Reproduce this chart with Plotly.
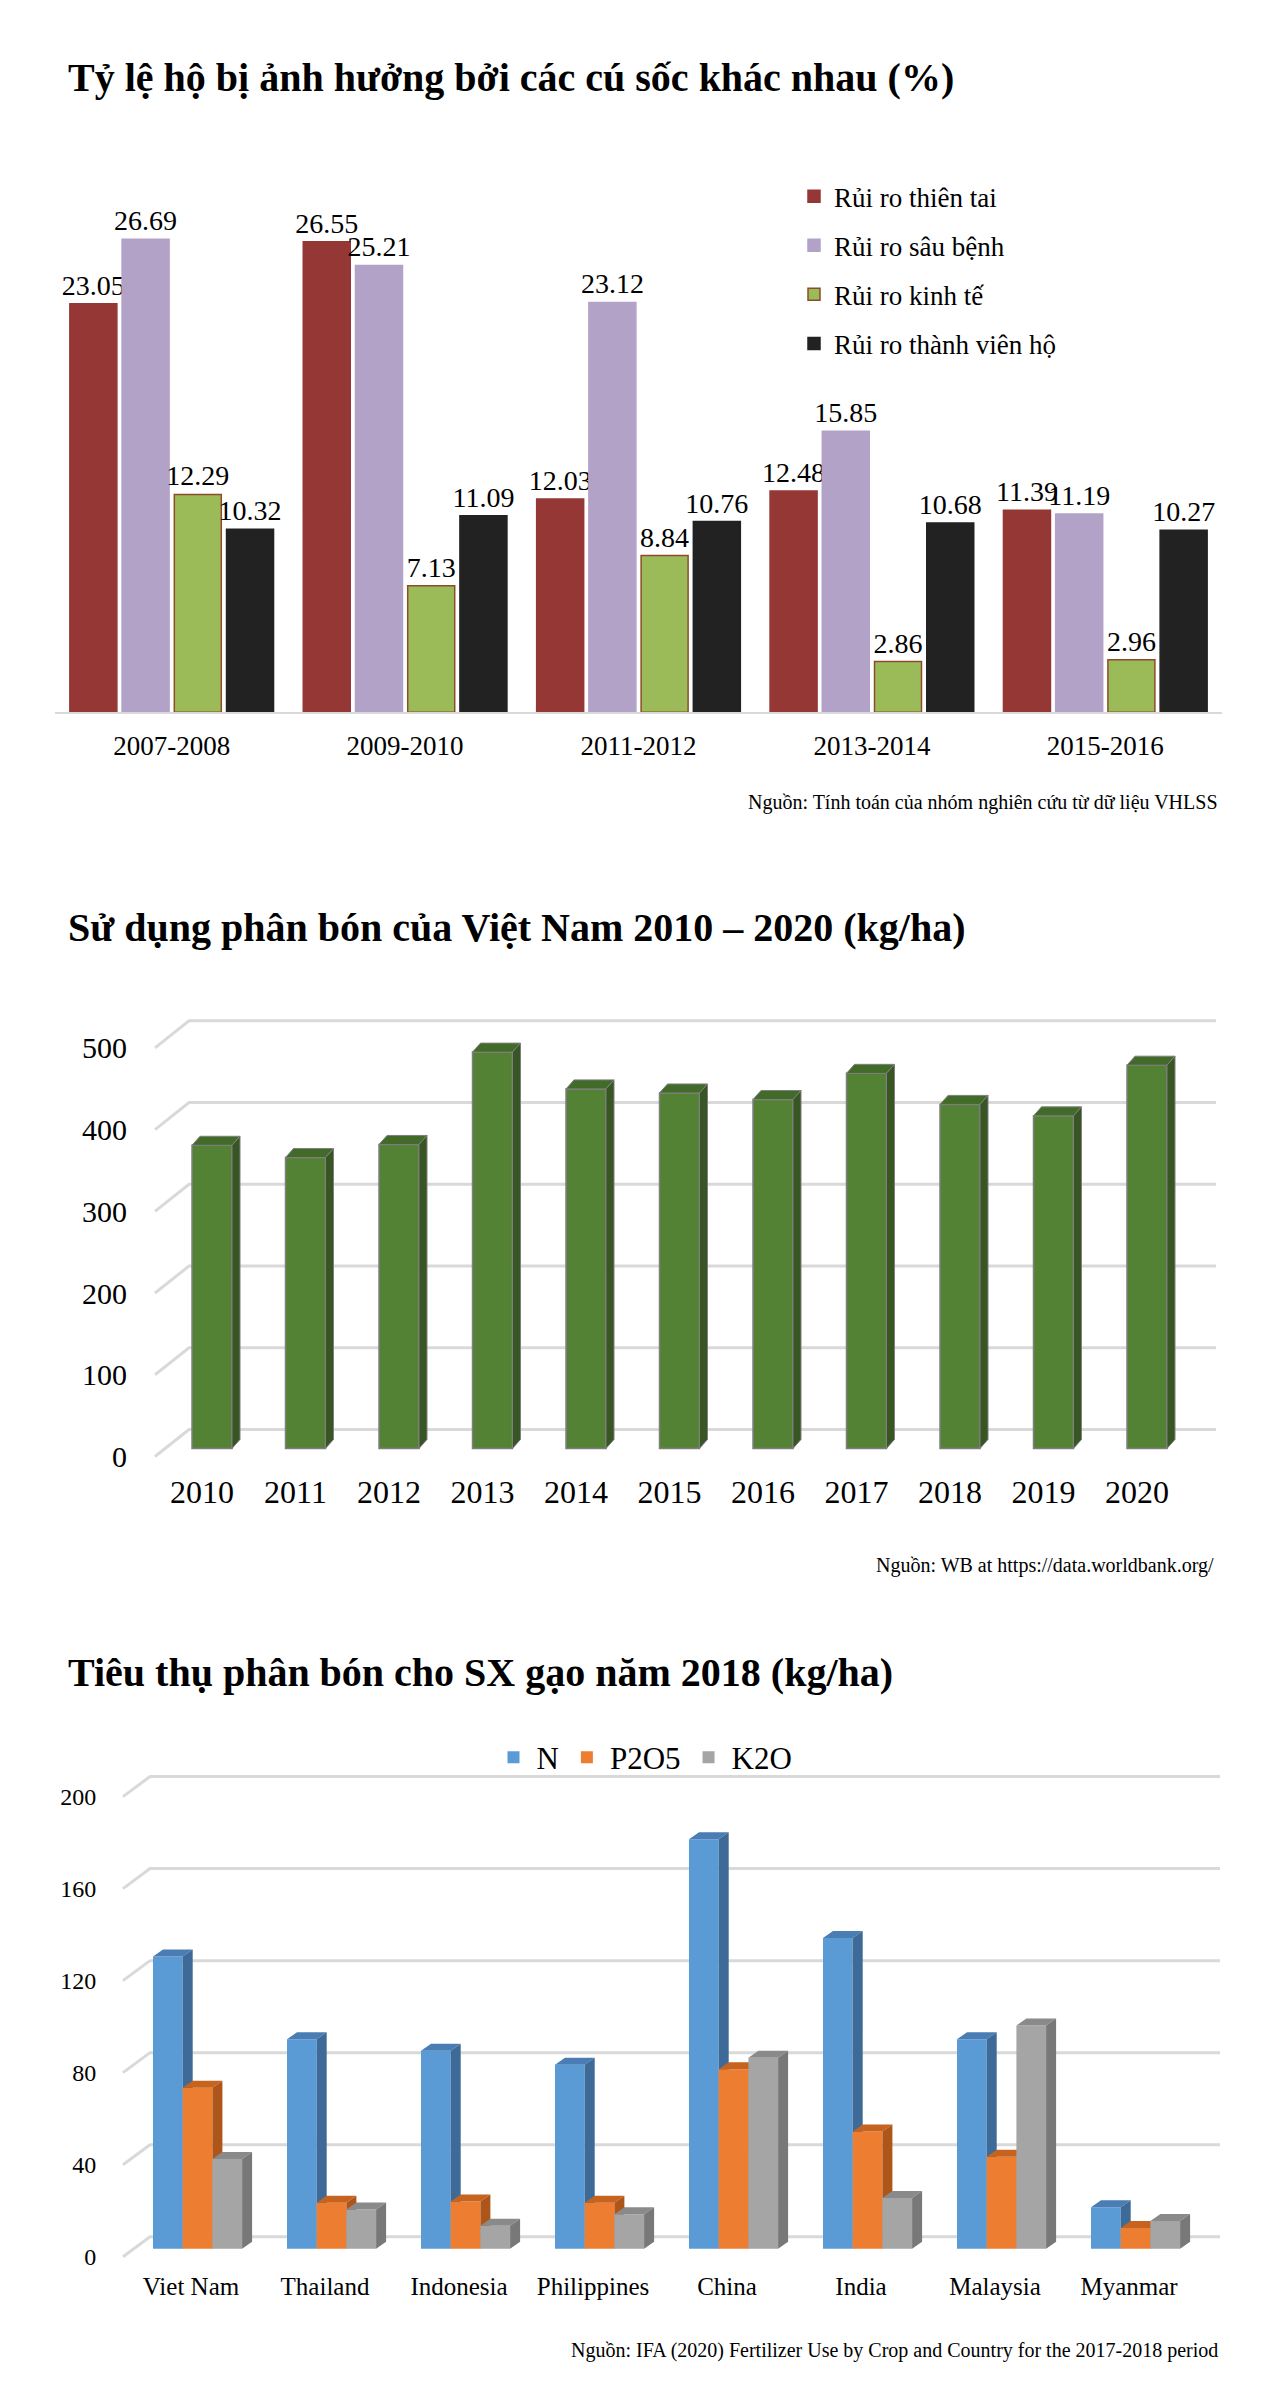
import plotly.graph_objects as go

W, H = 1280, 2383
FONT = "Liberation Serif"
PAGE_OFF = 8      # browser body margin
V_SCALE = 0.9955  # small vertical shrink observed in the captured page


def X(p):
    return (p - PAGE_OFF) / W


def Y(p):
    return 1 - (p / V_SCALE - PAGE_OFF) / H


# ---------------- data ----------------
# Chart 1
periods = ["2007-2008", "2009-2010", "2011-2012", "2013-2014", "2015-2016"]
risk_names = ["Rủi ro thiên tai", "Rủi ro sâu bệnh", "Rủi ro kinh tế", "Rủi ro thành viên hộ"]
thien_tai = [23.05, 26.55, 12.03, 12.48, 11.39]
sau_benh = [26.69, 25.21, 23.12, 15.85, 11.19]
kinh_te = [12.29, 7.13, 8.84, 2.86, 2.96]
thanh_vien = [10.32, 11.09, 10.76, 10.68, 10.27]

# Chart 2
years = ["2010", "2011", "2012", "2013", "2014", "2015", "2016", "2017", "2018", "2019", "2020"]
fert_use = [371, 356, 372, 485, 440, 435, 427, 459, 421, 407, 469]
c2_ticks = [0, 100, 200, 300, 400, 500]

# Chart 3
countries = ["Viet Nam", "Thailand", "Indonesia", "Philippines", "China", "India", "Malaysia", "Myanmar"]
nutrient_names = ["N", "P2O5", "K2O"]
n_vals = [127, 91, 86, 80, 178, 135, 91, 18]
p2o5_vals = [70, 20, 20.5, 20, 78, 51, 40, 9]
k2o_vals = [39, 17, 10, 15, 83, 22, 97, 12]
c3_ticks = [0, 40, 80, 120, 160, 200]

fig = go.Figure()

# ---------------- chart 1 ----------------
c1_colors = ["#953735", "#B3A2C7", "#9BBB59", "#222222"]
c1_lines = ["#953735", "#B3A2C7", "#8E4B2B", "#222222"]
for i, (name, vals) in enumerate(zip(risk_names, [thien_tai, sau_benh, kinh_te, thanh_vien])):
    fig.add_trace(go.Bar(
        x=periods, y=vals, name=name,
        marker=dict(color=c1_colors[i], line=dict(color=c1_lines[i], width=1.5)),
        text=[f"{v:.2f}" for v in vals], textposition="outside", textangle=0,
        constraintext="none", cliponaxis=False,
        textfont=dict(family=FONT, size=28, color="black"),
        xaxis="x", yaxis="y", legend="legend", legendgroup=f"r{i}",
        hoverinfo="x+y+name",
    ))


def faces(vals, offset, width, dx, dy):
    tx, ty, sx, sy = [], [], [], []
    for i, v in enumerate(vals):
        x0 = i + offset
        x1 = x0 + width
        tx += [x0, x0 + dx, x1 + dx, x1, x0, None]
        ty += [v, v + dy, v + dy, v, v, None]
        sx += [x1, x1 + dx, x1 + dx, x1, x1, None]
        sy += [0, dy, v + dy, v, 0, None]
    return tx, ty, sx, sy


def grid(ticks, xl, xb, xr, g_off, l_off):
    gx, gy = [], []
    for v in ticks:
        gx += [xl, xb, xr, None]
        gy += [v - l_off, v + g_off, v + g_off, None]
    return gx, gy


# ---------------- chart 2 ----------------
k2, base2, step2, t0_2 = 0.817, 1448, 93.5, 202
c2_top, c2_bot, c2_left, c2_right = 995, 1462, 150, 1222
c2_yr = [(base2 - c2_bot) / k2, (base2 - c2_top) / k2]
c2_xr = [(c2_left - t0_2) / step2, (c2_right - t0_2) / step2]
g_off2, l_off2 = 19 / k2, 8 / k2
gx, gy = grid(c2_ticks, (155 - t0_2) / step2, (189 - t0_2) / step2, (1216 - t0_2) / step2, g_off2, l_off2)
fig.add_trace(go.Scatter(x=gx, y=gy, mode="lines", line=dict(color="#d9d9d9", width=3),
                         xaxis="x2", yaxis="y2", showlegend=False, hoverinfo="skip"))

w2 = 40 / step2
off2 = -10 / step2
fig.add_trace(go.Bar(x=list(range(len(years))), y=fert_use, width=w2, offset=off2,
                     marker=dict(color="#548235", line=dict(color="#7f7f7f", width=1.5)),
                     xaxis="x3", yaxis="y3", showlegend=False, name="kg/ha",
                     customdata=years, hovertemplate="%{customdata}: %{y}<extra></extra>"))
tx, ty, sx, sy = faces(fert_use, off2, w2, 8 / step2, 9 / k2)
fig.add_trace(go.Scatter(x=tx, y=ty, mode="lines", fill="toself", fillcolor="#426b2a",
                         line=dict(color="#7f7f7f", width=1), xaxis="x3", yaxis="y3",
                         showlegend=False, hoverinfo="skip"))
fig.add_trace(go.Scatter(x=sx, y=sy, mode="lines", fill="toself", fillcolor="#375623",
                         line=dict(color="#7f7f7f", width=1), xaxis="x3", yaxis="y3",
                         showlegend=False, hoverinfo="skip"))

# ---------------- chart 3 ----------------
k3, base3, step3, t0_3 = 2.3, 2248, 134, 191
c3_top, c3_bot, c3_left, c3_right = 1765, 2261, 118, 1222
c3_yr = [(base3 - c3_bot) / k3, (base3 - c3_top) / k3]
c3_xr = [(c3_left - t0_3) / step3, (c3_right - t0_3) / step3]
g_off3, l_off3 = 12 / k3, 8 / k3
gx, gy = grid(c3_ticks, (123 - t0_3) / step3, (150 - t0_3) / step3, (1220 - t0_3) / step3, g_off3, l_off3)
fig.add_trace(go.Scatter(x=gx, y=gy, mode="lines", line=dict(color="#d9d9d9", width=3),
                         xaxis="x4", yaxis="y4", showlegend=False, hoverinfo="skip"))

w3 = 29.7 / step3
first_off = -38 / step3
c3_front = ["#5B9BD5", "#ED7D31", "#A5A5A5"]
c3_topc = ["#4a7db3", "#c5631f", "#8a8a8a"]
c3_side = ["#3d6a96", "#ae561a", "#787878"]
axes3 = [("x5", "y5"), ("x6", "y6"), ("x7", "y7")]
for j, (name, vals) in enumerate(zip(nutrient_names, [n_vals, p2o5_vals, k2o_vals])):
    xa, ya = axes3[j]
    off = first_off + j * w3
    fig.add_trace(go.Bar(x=list(range(len(countries))), y=vals, width=w3, offset=off, name=name,
                         marker=dict(color=c3_front[j], line=dict(width=0)),
                         xaxis=xa, yaxis=ya, legend="legend2",
                         customdata=countries, hovertemplate="%{customdata}: %{y}<extra>" + name + "</extra>"))
    tx, ty, sx, sy = faces(vals, off, w3, 10 / step3, 7 / k3)
    fig.add_trace(go.Scatter(x=tx, y=ty, mode="lines", fill="toself", fillcolor=c3_topc[j],
                             line=dict(width=0), xaxis=xa, yaxis=ya, showlegend=False, hoverinfo="skip"))
    fig.add_trace(go.Scatter(x=sx, y=sy, mode="lines", fill="toself", fillcolor=c3_side[j],
                             line=dict(width=0), xaxis=xa, yaxis=ya, showlegend=False, hoverinfo="skip"))

# ---------------- layout ----------------
lay = dict(
    width=W, height=H, margin=dict(l=0, r=0, t=0, b=0),
    paper_bgcolor="white", plot_bgcolor="rgba(0,0,0,0)",
    font=dict(family=FONT, color="black"),
    barmode="group", bargap=0.105, bargroupgap=0.1,
    # chart 1
    xaxis=dict(domain=[X(55), X(1222)], anchor="y", type="category",
               showline=True, linecolor="#d9d9d9", linewidth=2,
               ticks="outside", ticklen=8, tickcolor="rgba(0,0,0,0)",
               tickfont=dict(family=FONT, size=27), showgrid=False, fixedrange=True),
    yaxis=dict(domain=[Y(712), Y(180.4)], anchor="x", range=[0, 30], visible=False, fixedrange=True),
    # chart 2 base (grid + tick labels)
    xaxis2=dict(domain=[X(c2_left), X(c2_right)], anchor="y2", range=c2_xr,
                tickvals=list(range(len(years))), ticktext=years,
                ticks="outside", ticklen=1, tickcolor="rgba(0,0,0,0)",
                tickfont=dict(family=FONT, size=32),
                showgrid=False, zeroline=False, showline=False),
    yaxis2=dict(domain=[Y(c2_bot), Y(c2_top)], anchor="x2", range=c2_yr,
                tickvals=[v - l_off2 for v in c2_ticks], ticktext=[str(v) for v in c2_ticks],
                ticks="outside", ticklen=16, tickcolor="rgba(0,0,0,0)",
                tickfont=dict(family=FONT, size=30), showgrid=False, zeroline=False, showline=False),
    xaxis3=dict(overlaying="x2", anchor="y3", range=c2_xr, visible=False, domain=[X(c2_left), X(c2_right)]),
    yaxis3=dict(overlaying="y2", anchor="x3", range=c2_yr, visible=False, domain=[Y(c2_bot), Y(c2_top)]),
    # chart 3 base
    xaxis4=dict(domain=[X(c3_left), X(c3_right)], anchor="y4", range=c3_xr,
                tickvals=list(range(len(countries))), ticktext=countries,
                ticks="outside", ticklen=2, tickcolor="rgba(0,0,0,0)",
                tickfont=dict(family=FONT, size=25),
                showgrid=False, zeroline=False, showline=False),
    yaxis4=dict(domain=[Y(c3_bot), Y(c3_top)], anchor="x4", range=c3_yr,
                tickvals=[v - l_off3 for v in c3_ticks], ticktext=[str(v) for v in c3_ticks],
                ticks="outside", ticklen=16, tickcolor="rgba(0,0,0,0)",
                tickfont=dict(family=FONT, size=24), showgrid=False, zeroline=False, showline=False),
    legend=dict(x=X(794), xanchor="left", y=Y(172), yanchor="top",
                font=dict(family=FONT, size=27), traceorder="grouped", tracegroupgap=11,
                bgcolor="rgba(0,0,0,0)"),
    legend2=dict(orientation="h", x=X(644), xanchor="center", y=Y(1757), yanchor="middle",
                 font=dict(family=FONT, size=31), itemwidth=36, bgcolor="rgba(0,0,0,0)"),
    annotations=[
        dict(text="<b>Tỷ lệ hộ bị ảnh hưởng bởi các cú sốc khác nhau (%)</b>", x=X(66), y=Y(77),
             xref="paper", yref="paper", xanchor="left", yanchor="middle", showarrow=False,
             font=dict(family=FONT, size=40)),
        dict(text="Nguồn: Tính toán của nhóm nghiên cứu từ dữ liệu VHLSS", x=X(1220), y=Y(802),
             xref="paper", yref="paper", xanchor="right", yanchor="middle", showarrow=False,
             font=dict(family=FONT, size=20)),
        dict(text="<b>Sử dụng phân bón của Việt Nam 2010 – 2020 (kg/ha)</b>", x=X(66), y=Y(927),
             xref="paper", yref="paper", xanchor="left", yanchor="middle", showarrow=False,
             font=dict(family=FONT, size=40)),
        dict(text="Nguồn: WB at https://data.worldbank.org/", x=X(1216), y=Y(1565),
             xref="paper", yref="paper", xanchor="right", yanchor="middle", showarrow=False,
             font=dict(family=FONT, size=20)),
        dict(text="<b>Tiêu thụ phân bón cho SX gạo năm 2018 (kg/ha)</b>", x=X(66), y=Y(1672),
             xref="paper", yref="paper", xanchor="left", yanchor="middle", showarrow=False,
             font=dict(family=FONT, size=40)),
        dict(text="Nguồn: IFA (2020) Fertilizer Use by Crop and Country for the 2017-2018 period",
             x=X(1220), y=Y(2350), xref="paper", yref="paper", xanchor="right", yanchor="middle",
             showarrow=False, font=dict(family=FONT, size=20)),
    ],
)
for n in ["5", "6", "7"]:
    lay["xaxis" + n] = dict(overlaying="x4", anchor="y" + n, range=c3_xr, visible=False,
                            domain=[X(c3_left), X(c3_right)])
    lay["yaxis" + n] = dict(overlaying="y4", anchor="x" + n, range=c3_yr, visible=False,
                            domain=[Y(c3_bot), Y(c3_top)])

fig.update_layout(**lay)
fig.write_html("out.html")
